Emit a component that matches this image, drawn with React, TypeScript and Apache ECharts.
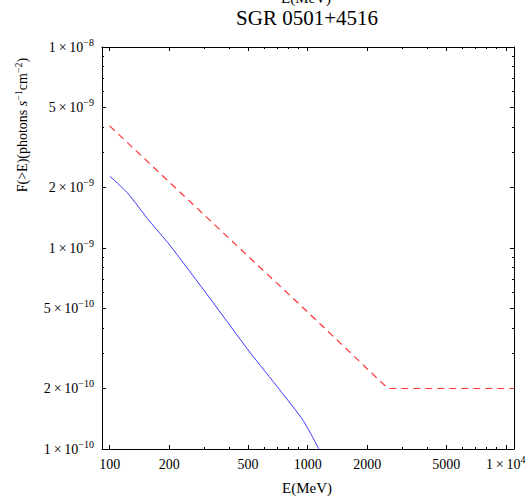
import React, { useEffect, useRef } from "react";
import * as echarts from "echarts";

const FONT = "'Liberation Serif', 'Times New Roman', serif";

// Energy (MeV) and integral flux (photons s^-1 cm^-2)
const blueE = [100, 123, 159, 201, 320, 509, 722, 947, 1127, 1160];
const blueF = [2.28e-9, 1.88e-9, 1.36e-9, 1.035e-9, 5.64e-10, 3.04e-10, 1.97e-10, 1.39e-10, 1.02e-10, 0.96e-10];

const redE = [100, 500, 1000, 2540, 11000];
const redF = [4.05e-9, 9.1e-10, 4.8e-10, 2.0e-10, 2.0e-10];

const xMajorTicks = [100, 200, 500, 1000, 2000, 5000, 10000];
const xMajorLabels = ["100", "200", "500", "1000", "2000", "5000", "1\u2009×\u200910^4"];
const xMinorTicks = [300, 400, 600, 700, 800, 900, 3000, 4000, 6000, 7000, 8000, 9000];

const yMajorTicks = [1e-10, 2e-10, 5e-10, 1e-9, 2e-9, 5e-9, 1e-8];
const yMajorLabels = [
  "1\u2009×\u200910^−10",
  "2\u2009×\u200910^−10",
  "5\u2009×\u200910^−10",
  "1\u2009×\u200910^−9",
  "2\u2009×\u200910^−9",
  "5\u2009×\u200910^−9",
  "1\u2009×\u200910^−8",
];
const yMinorTicks = [3e-10, 4e-10, 6e-10, 7e-10, 8e-10, 9e-10, 3e-9, 4e-9, 6e-9, 7e-9, 8e-9, 9e-9];

const xRange = [91.5, 11000];
const yRange = [1e-10, 1e-8];

const lg = (v: number) => Math.log10(v);

const toRich = (s: string) => {
  const i = s.indexOf("^");
  if (i < 0) return `{n|${s}}`;
  return `{n|${s.slice(0, i)}}{s|${s.slice(i + 1)}}`;
};

const labelRich = {
  n: { fontFamily: FONT, fontSize: 14, color: "#000", lineHeight: 20 },
  s: { fontFamily: FONT, fontSize: 10, color: "#000", lineHeight: 8, verticalAlign: "top" },
};

const pickLabel = (ticks: number[], labels: string[], v: number) => {
  let best = 0;
  let bd = Infinity;
  ticks.forEach((t, i) => {
    const d = Math.abs(lg(t) - v);
    if (d < bd) {
      bd = d;
      best = i;
    }
  });
  return toRich(labels[best]);
};

export default function App() {
  const ref = useRef<HTMLDivElement>(null);

  useEffect(() => {
    if (!ref.current) return;
    const chart = echarts.init(ref.current, undefined, { renderer: "svg" });

    const xMin = lg(xRange[0]);
    const xMax = lg(xRange[1]);
    const yMin = lg(yRange[0]);
    const yMax = lg(yRange[1]);
    const line = { show: true, onZero: false, lineStyle: { color: "#000", width: 1 } };
    const noLine = { show: false };

    const mkX = (position: string, ticks: number[], len: number, showLine: boolean, labels: boolean) => ({
      type: "value",
      position,
      min: xMin,
      max: xMax,
      axisLine: showLine ? line : noLine,
      axisTick: {
        show: true,
        inside: true,
        length: len,
        customValues: ticks.map(lg),
        lineStyle: { color: "#000", width: 1 },
      },
      axisLabel: labels
        ? {
            show: true,
            customValues: ticks.map(lg),
            margin: 5,
            formatter: (v: number) => pickLabel(xMajorTicks, xMajorLabels, v),
            rich: labelRich,
          }
        : { show: false },
      splitLine: { show: false },
    });

    const mkY = (position: string, ticks: number[], len: number, showLine: boolean, labels: boolean) => ({
      type: "value",
      position,
      min: yMin,
      max: yMax,
      axisLine: showLine ? line : noLine,
      axisTick: {
        show: true,
        inside: true,
        length: len,
        customValues: ticks.map(lg),
        lineStyle: { color: "#000", width: 1 },
      },
      axisLabel: labels
        ? {
            show: true,
            customValues: ticks.map(lg),
            margin: 8,
            formatter: (v: number) => pickLabel(yMajorTicks, yMajorLabels, v),
            rich: labelRich,
          }
        : { show: false },
      splitLine: { show: false },
    });

    chart.setOption({
      animation: false,
      backgroundColor: "#fff",
      grid: { left: 102, right: 15, top: 47, bottom: 48, containLabel: false },
      xAxis: [
        mkX("bottom", xMajorTicks, 4, true, true),
        mkX("bottom", xMinorTicks, 2, false, false),
        mkX("top", xMajorTicks, 4, true, false),
        mkX("top", xMinorTicks, 2, false, false),
      ],
      yAxis: [
        mkY("left", yMajorTicks, 4, true, true),
        mkY("left", yMinorTicks, 2, false, false),
        mkY("right", yMajorTicks, 4, true, false),
        mkY("right", yMinorTicks, 2, false, false),
      ],
      series: [
        {
          type: "line",
          name: "blue",
          xAxisIndex: 0,
          yAxisIndex: 0,
          data: blueE.map((e, i) => [lg(e), lg(blueF[i])]),
          showSymbol: false,
          symbol: "none",
          clip: true,
          smooth: 0.2,
          lineStyle: { color: "#3a3aff", width: 1 },
        },
        {
          type: "line",
          name: "red",
          xAxisIndex: 0,
          yAxisIndex: 0,
          data: redE.map((e, i) => [lg(e), lg(redF[i])]),
          showSymbol: false,
          symbol: "none",
          clip: true,
          lineStyle: { color: "#ff3333", width: 1.2, type: [7, 5] },
        },
      ],
      graphic: [
        {
          type: "text",
          x: 307,
          y: 18,
          style: {
            text: "SGR 0501+4516",
            fontFamily: FONT,
            fontSize: 21,
            fill: "#000",
            textAlign: "center",
            textVerticalAlign: "middle",
          },
        },
        {
          type: "text",
          x: 306,
          y: 5,
          style: {
            text: "E(MeV)",
            fontFamily: FONT,
            fontSize: 15,
            fill: "#000",
            textAlign: "center",
            textVerticalAlign: "bottom",
          },
        },
        {
          type: "text",
          x: 307,
          y: 488,
          style: {
            text: "E(MeV)",
            fontFamily: FONT,
            fontSize: 15,
            fill: "#000",
            textAlign: "center",
            textVerticalAlign: "middle",
          },
        },
        {
          type: "text",
          x: 22,
          y: 125,
          rotation: Math.PI / 2,
          style: {
            text: "{n|F(>E)(photons }{i|s}{s|−1}{n|cm}{s|−2}{n|)}",
            textAlign: "center",
            textVerticalAlign: "middle",
            rich: {
              n: { fontFamily: FONT, fontSize: 14, fill: "#000", lineHeight: 18 },
              i: { fontFamily: FONT, fontSize: 14, fontStyle: "italic", fill: "#000", lineHeight: 18 },
              s: { fontFamily: FONT, fontSize: 10, fill: "#000", lineHeight: 8, verticalAlign: "top" },
            },
          },
        },
      ],
    });

    return () => chart.dispose();
  }, []);

  return (
    <div
      ref={ref}
      style={{ position: "fixed", left: 0, top: 0, width: 529, height: 497, background: "#fff" }}
    />
  );
}
